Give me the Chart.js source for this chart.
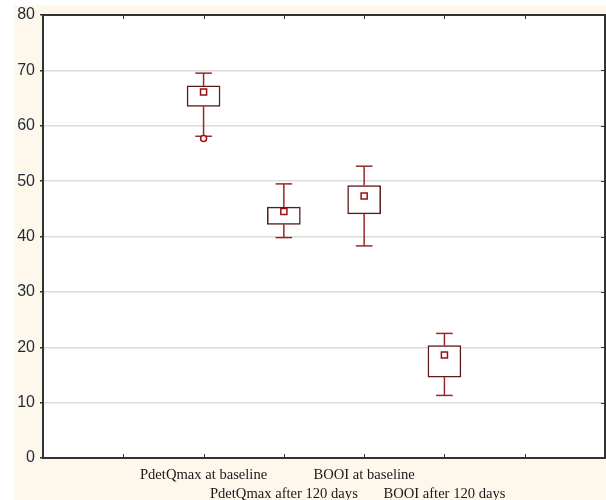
<!DOCTYPE html>
<html>
<head>
<meta charset="utf-8">
<script src="https://cdn.jsdelivr.net/npm/chart.js@4.4.0/dist/chart.umd.min.js"></script>
<style>
    body { margin: 0; background: #ffffff; }
    #marco { position: absolute; left: 14px; top: 5px; width: 592px; height: 495px; background: #fef8ec; }
</style>
</head>
<body>
<div id="marco"><canvas id="grafica" width="592" height="495"></canvas></div>
<script>
// Datos
const posiciones = [2, 3, 4, 5];
const etiquetas = ['PdetQmax at baseline', 'PdetQmax after 120 days', 'BOOI at baseline', 'BOOI after 120 days'];
const bigoteMin = [58.1, 39.8, 38.3, 11.3];
const cajaBaja = [63.5, 42.2, 44.1, 14.6];
const cajaAlta = [67.2, 45.3, 49.2, 20.3];
const bigoteMax = [69.5, 49.5, 52.7, 22.5];
const medias = [66.1, 44.5, 47.3, 18.6];
const atipicosPos = [2];
const atipicosVal = [57.7];

const colorCaja = '#5a1a1a';
const colorBigote = '#9a2626';

// Fondo blanco del área de dibujo, borde y marcas hacia dentro
const marcoPlugin = {
    id: 'marco',
    beforeDraw(chart) {
        const a = chart.chartArea;
        const ctx = chart.ctx;
        ctx.save();
        ctx.fillStyle = '#ffffff';
        ctx.fillRect(a.left, a.top, a.right - a.left, a.bottom - a.top);
        ctx.restore();
    },
    afterDraw(chart) {
        const a = chart.chartArea;
        const ctx = chart.ctx;
        const x = chart.scales.x;
        const y = chart.scales.y;
        ctx.save();
        ctx.strokeStyle = '#333333';
        ctx.lineWidth = 2;
        ctx.beginPath();
        ctx.moveTo(a.left, a.top);
        ctx.lineTo(a.right, a.top);
        ctx.lineTo(a.right, a.bottom);
        ctx.stroke();
        ctx.lineWidth = 1;
        ctx.beginPath();
        for (let v = 1; v <= 6; v++) {
            const px = Math.round(x.getPixelForValue(v)) + 0.5;
            ctx.moveTo(px, a.top);
            ctx.lineTo(px, a.top + 4);
            ctx.moveTo(px, a.bottom);
            ctx.lineTo(px, a.bottom - 4);
        }
        for (let v = 10; v <= 70; v += 10) {
            const py = Math.round(y.getPixelForValue(v)) + 0.5;
            ctx.moveTo(a.right, py);
            ctx.lineTo(a.right - 4, py);
        }
        ctx.stroke();
        ctx.restore();
    }
};

const datasets = [];

// Cajas (barras flotantes)
datasets.push({
    type: 'bar',
    data: posiciones.map((p, i) => ({ x: p, y: [cajaBaja[i], cajaAlta[i]] })),
    backgroundColor: '#ffffff',
    borderColor: colorCaja,
    borderWidth: 1.5,
    borderSkipped: false,
    barThickness: 33,
    order: 3
});

// Bigotes
posiciones.forEach((p, i) => {
    datasets.push({
        type: 'scatter',
        data: [{ x: p, y: cajaAlta[i] }, { x: p, y: bigoteMax[i] }],
        showLine: true,
        borderColor: colorBigote,
        borderWidth: 1.5,
        pointRadius: 0,
        order: 2
    });
    datasets.push({
        type: 'scatter',
        data: [{ x: p, y: bigoteMin[i] }, { x: p, y: cajaBaja[i] }],
        showLine: true,
        borderColor: colorBigote,
        borderWidth: 1.5,
        pointRadius: 0,
        order: 2
    });
});

// Topes de los bigotes
datasets.push({
    type: 'scatter',
    data: posiciones.flatMap((p, i) => [{ x: p, y: bigoteMax[i] }, { x: p, y: bigoteMin[i] }]),
    pointStyle: 'line',
    pointRadius: 8.3,
    borderColor: colorBigote,
    borderWidth: 1.5,
    order: 1
});

// Medias
datasets.push({
    type: 'scatter',
    data: posiciones.map((p, i) => ({ x: p, y: medias[i] })),
    pointStyle: 'rect',
    pointRadius: 4.3,
    backgroundColor: '#ffffff',
    borderColor: '#9a1010',
    borderWidth: 1.5,
    order: 0
});

// Valores atípicos
datasets.push({
    type: 'scatter',
    data: atipicosPos.map((p, i) => ({ x: p, y: atipicosVal[i] })),
    pointStyle: 'circle',
    pointRadius: 3,
    backgroundColor: '#ffffff',
    borderColor: '#9a1010',
    borderWidth: 1.5,
    order: 0
});

const ctx = document.getElementById('grafica').getContext('2d');
new Chart(ctx, {
    type: 'bar',
    data: { datasets: datasets },
    options: {
        responsive: false,
        animation: false,
        layout: { autoPadding: false, padding: { top: 10, right: 1, left: 0, bottom: 0 } },
        plugins: {
            legend: { display: false },
            tooltip: { enabled: false }
        },
        scales: {
            x: {
                type: 'linear',
                min: 0,
                max: 7,
                offset: false,
                afterFit: s => { s.height = 42; s.paddingLeft = 0; s.paddingRight = 0; },
                grid: { display: false, drawTicks: false },
                border: { display: true, color: '#333333', width: 2 },
                ticks: {
                    stepSize: 1,
                    autoSkip: false,
                    maxRotation: 0,
                    padding: 8,
                    color: '#1a1a1a',
                    font: { family: '"Liberation Serif", "Times New Roman", serif', size: 14.6, lineHeight: 1.3 },
                    callback: v => {
                        const i = posiciones.indexOf(v);
                        if (i < 0) return '';
                        return i % 2 === 0 ? etiquetas[i] : ['', etiquetas[i]];
                    }
                }
            },
            y: {
                min: 0,
                max: 80,
                afterFit: s => { s.width = 29; s.paddingTop = 0; s.paddingBottom = 0; },
                grid: { color: '#dcdcdc', lineWidth: 1.5, tickColor: '#333333', tickLength: 3 },
                border: { display: true, color: '#333333', width: 2 },
                ticks: {
                    stepSize: 10,
                    padding: 5,
                    color: '#1f2a36',
                    font: { family: '"Liberation Sans", Arial, sans-serif', size: 16 }
                }
            }
        }
    },
    plugins: [marcoPlugin]
});
</script>
</body>
</html>
